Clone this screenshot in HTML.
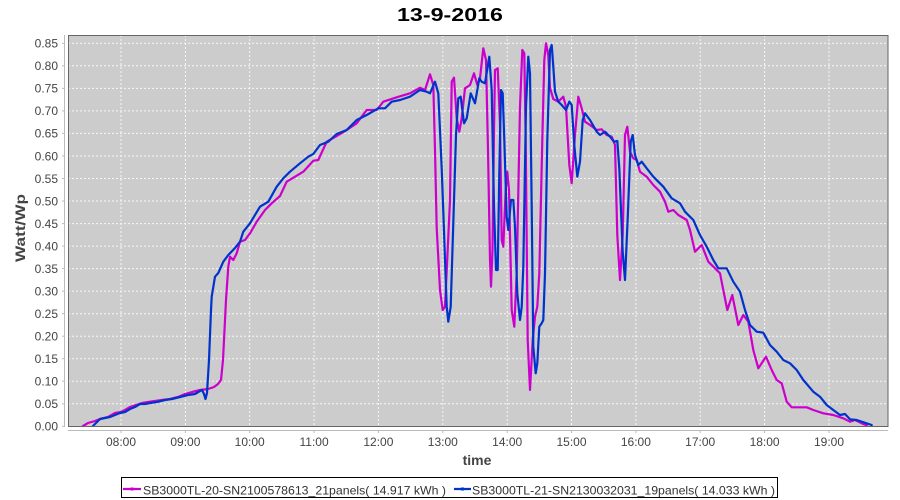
<!DOCTYPE html>
<html>
<head>
<meta charset="utf-8">
<style>
html,body{margin:0;padding:0;background:#fff;}
svg{display:block;}
text{font-family:"Liberation Sans",Arial,sans-serif;}
</style>
</head>
<body>
<svg width="900" height="500" viewBox="0 0 900 500" xmlns="http://www.w3.org/2000/svg">
<rect x="0" y="0" width="900" height="500" fill="#ffffff"/>
<!-- title -->
<text x="450" y="21" text-anchor="middle" font-family="'DejaVu Sans','Liberation Sans',sans-serif" font-weight="bold" font-size="18" fill="#000" textLength="106" lengthAdjust="spacingAndGlyphs">13-9-2016</text>

<!-- plot background -->
<rect x="68" y="35" width="820" height="391.5" fill="#cccccc"/>

<!-- grid -->
<g stroke="#ffffff" stroke-width="1" stroke-dasharray="2,2" opacity="0.85">
<line x1="68" x2="888" y1="403.8" y2="403.8"/>
<line x1="68" x2="888" y1="381.2" y2="381.2"/>
<line x1="68" x2="888" y1="358.7" y2="358.7"/>
<line x1="68" x2="888" y1="336.2" y2="336.2"/>
<line x1="68" x2="888" y1="313.7" y2="313.7"/>
<line x1="68" x2="888" y1="291.1" y2="291.1"/>
<line x1="68" x2="888" y1="268.6" y2="268.6"/>
<line x1="68" x2="888" y1="246.1" y2="246.1"/>
<line x1="68" x2="888" y1="223.6" y2="223.6"/>
<line x1="68" x2="888" y1="201.0" y2="201.0"/>
<line x1="68" x2="888" y1="178.5" y2="178.5"/>
<line x1="68" x2="888" y1="156.0" y2="156.0"/>
<line x1="68" x2="888" y1="133.4" y2="133.4"/>
<line x1="68" x2="888" y1="110.9" y2="110.9"/>
<line x1="68" x2="888" y1="88.4" y2="88.4"/>
<line x1="68" x2="888" y1="65.8" y2="65.8"/>
<line x1="68" x2="888" y1="43.3" y2="43.3"/>
<line y1="35" y2="426" x1="121" x2="121"/>
<line y1="35" y2="426" x1="185.4" x2="185.4"/>
<line y1="35" y2="426" x1="249.7" x2="249.7"/>
<line y1="35" y2="426" x1="314.1" x2="314.1"/>
<line y1="35" y2="426" x1="378.4" x2="378.4"/>
<line y1="35" y2="426" x1="442.8" x2="442.8"/>
<line y1="35" y2="426" x1="507.2" x2="507.2"/>
<line y1="35" y2="426" x1="571.5" x2="571.5"/>
<line y1="35" y2="426" x1="635.9" x2="635.9"/>
<line y1="35" y2="426" x1="700.2" x2="700.2"/>
<line y1="35" y2="426" x1="764.6" x2="764.6"/>
<line y1="35" y2="426" x1="829" x2="829"/>
</g>

<!-- series -->
<g fill="none" stroke-width="2.2" stroke-linejoin="round" stroke-linecap="round">
<polyline stroke="#cc00cc" points="83,426 88,423 95,421 100,419 108,417 115,413 121,412 125,410 130,407 136,405 142,403 148,402 155,401 162,400 170,399 178,397 185,394 192,392 200,390 208,389 214,387 218,384 221,380 223,360 225,320 226,300 228.3,266.7 230,256.7 233.3,260 236.7,253.3 240,241.7 245,240 250,233.3 256.7,221.7 265,210 271.7,203.3 280,196 286.7,181.7 295,176.7 303.3,171.7 313.3,160.7 318.3,160 326.7,141.7 336.7,136 346.7,130 356.7,123.3 366.7,110 376.7,110 383.3,101.7 396.7,97.3 410,93.3 420,87.7 425,90 430,74.3 433.3,85 435,150 436.7,228 440,290 442.7,310 445,306.7 448.3,236.7 450,200 451.7,81.7 454,77.7 456.7,118.3 459.3,131.7 461.7,118.3 465,88.3 470,85 474,73.3 477.3,85 480,78.3 483.3,48.3 486,60 488,150 490,260 491,286.7 492.5,250 494,130 495,70 497.7,68.3 500,123 501.7,240 503.3,246.7 505.7,190 507.3,171.7 509,190 511.7,310 514.3,326.7 516.7,273 520,106.7 522.3,50 524.3,53.3 525.7,140 527.7,340 530,390 532.7,340 535,316.7 537.3,306.7 539.3,273.3 542.3,140 544.3,60 546,43.3 548.3,55 550,88 553.3,99 558.3,101.7 563.3,96.7 566,106.7 569.3,165 571.7,183.3 575,135 578.3,96.7 581.7,108.3 585,121.7 590,125 596.7,130 601.7,129.3 606.7,135 611.7,136.7 615,145 617.3,235 620,280 622.7,235 625,135 627.3,126.7 630,151.7 633.3,158.3 636.7,160 640,171.7 646.7,176.7 653.3,185 660,191.7 665,201.7 668.3,211.7 673.3,210 678.3,215 686.7,220 690,230 695,251.7 701.7,245 708.3,261.7 715,268.3 720,273.3 723.3,290 727.3,310 732.3,295 738.3,325 743.3,315 748.3,321.7 753.3,350 758.3,368.3 766,356.7 771.7,370 776.7,380 781.7,383.3 786.7,401.7 791.7,407.3 806.7,407.3 813.3,410 823.3,413.3 833.3,415 843.3,418.3 850,421.7 855,420 861.7,423.3 866.7,425.3"/>
<polyline stroke="#0033cc" points="93,426 97,422 100,419 105,418 110,417 115,415 120,413 125,412 130,409 135,407 140,404 145,404 150,403 157,402 165,400 172,399 180,397 188,395 195,394 200,391 202,390 204,394 205.5,399 207,393 209,360 211,310 211.7,296.7 215,276.7 218.3,273 223.3,261.7 228.3,255 235,248 240,241.7 243.3,231.7 250,223.3 260,206.7 268.3,201.7 276.7,186.7 283.3,178.3 290,171.7 300,163.3 308.3,156.7 313.3,154 320,145 328.3,141.7 336.7,134 346.7,130 356.7,120 366.7,115 378.3,108.3 385,108.3 391.7,101.7 400,100 410,96.7 420,90 426.7,91.7 430,93.3 435,81.7 438.3,93.3 441.7,168.3 443.3,211.7 446.7,306.7 448.3,321.7 450.7,306.7 453.3,223.3 456,135 458.3,98.3 460.7,96.7 464,123.3 466.7,118.3 470.7,93.3 475,103.3 479.3,78.3 481.7,81.7 485,83.3 489.3,56.7 491.7,90 494,206.7 496,270 497.7,270 499.3,173.3 501,90 502.7,93.3 504.3,140 506.7,216.7 508.3,230 511,200 513.3,200 515,226.7 517.3,293.3 520,320 521.7,306.7 523.3,266.7 526,106.7 528.3,56.7 530,73.3 531.7,206.7 533.3,346.7 535.7,373.3 537.3,363.3 539.3,326.7 541.7,323.3 543.3,320 545,273.3 547.3,140 550,50 551.7,45 553.3,66.7 555,91.7 558.3,101.7 561.7,105 566,110 569.3,101.7 571.7,105 574.3,145 577.3,176.7 580,161.7 582.7,120 585,113.3 590,120 596.7,131.7 600,135 605,131.7 610,136.7 614,141.7 617.3,141 619.3,168.3 622.7,251.7 625,280 627.7,218.3 630.7,141.7 632.7,135 635,155 638.3,165 641.7,161.7 646.7,168.3 653.3,176.7 663.3,186.7 671.7,198.3 680,203.3 685,211.7 693.3,220 700,235 706.7,246.7 713.3,260 718.3,268.3 726.7,268.3 733.3,281.7 740,291.7 745,310 750,325 756.7,331.7 763.3,332.7 770,345 776.7,351.7 783.3,360 790,363.3 796.7,370 803.3,380 813.3,391.7 820,396.7 826.7,405 833.3,410 840,415 845,414 850,419.3 856.7,420 861.7,421.7 871.7,425"/>
</g>

<!-- plot border -->
<rect x="68.5" y="35.5" width="819.5" height="391" fill="none" stroke="#666666" stroke-width="1"/>

<!-- y axis -->
<line x1="64.5" y1="35" x2="64.5" y2="427" stroke="#bbbbbb" stroke-width="1"/>
<g stroke="#bbbbbb" stroke-width="1">
<line x1="62" x2="64.5" y1="426.3" y2="426.3"/>
<line x1="62" x2="64.5" y1="403.8" y2="403.8"/>
<line x1="62" x2="64.5" y1="381.2" y2="381.2"/>
<line x1="62" x2="64.5" y1="358.7" y2="358.7"/>
<line x1="62" x2="64.5" y1="336.2" y2="336.2"/>
<line x1="62" x2="64.5" y1="313.7" y2="313.7"/>
<line x1="62" x2="64.5" y1="291.1" y2="291.1"/>
<line x1="62" x2="64.5" y1="268.6" y2="268.6"/>
<line x1="62" x2="64.5" y1="246.1" y2="246.1"/>
<line x1="62" x2="64.5" y1="223.6" y2="223.6"/>
<line x1="62" x2="64.5" y1="201.0" y2="201.0"/>
<line x1="62" x2="64.5" y1="178.5" y2="178.5"/>
<line x1="62" x2="64.5" y1="156.0" y2="156.0"/>
<line x1="62" x2="64.5" y1="133.4" y2="133.4"/>
<line x1="62" x2="64.5" y1="110.9" y2="110.9"/>
<line x1="62" x2="64.5" y1="88.4" y2="88.4"/>
<line x1="62" x2="64.5" y1="65.8" y2="65.8"/>
<line x1="62" x2="64.5" y1="43.3" y2="43.3"/>
</g>
<g font-size="12" fill="#444444" text-anchor="end">
<text x="58" y="430.6">0.00</text>
<text x="58" y="408.1">0.05</text>
<text x="58" y="385.5">0.10</text>
<text x="58" y="363.0">0.15</text>
<text x="58" y="340.5">0.20</text>
<text x="58" y="318.0">0.25</text>
<text x="58" y="295.4">0.30</text>
<text x="58" y="272.9">0.35</text>
<text x="58" y="250.4">0.40</text>
<text x="58" y="227.9">0.45</text>
<text x="58" y="205.3">0.50</text>
<text x="58" y="182.8">0.55</text>
<text x="58" y="160.3">0.60</text>
<text x="58" y="137.7">0.65</text>
<text x="58" y="115.2">0.70</text>
<text x="58" y="92.7">0.75</text>
<text x="58" y="70.1">0.80</text>
<text x="58" y="47.6">0.85</text>
</g>

<!-- x axis -->
<line x1="68" y1="430.5" x2="888" y2="430.5" stroke="#bbbbbb" stroke-width="1"/>
<g stroke="#bbbbbb" stroke-width="1">
<line y1="430.5" y2="433" x1="121" x2="121"/>
<line y1="430.5" y2="433" x1="185.4" x2="185.4"/>
<line y1="430.5" y2="433" x1="249.7" x2="249.7"/>
<line y1="430.5" y2="433" x1="314.1" x2="314.1"/>
<line y1="430.5" y2="433" x1="378.4" x2="378.4"/>
<line y1="430.5" y2="433" x1="442.8" x2="442.8"/>
<line y1="430.5" y2="433" x1="507.2" x2="507.2"/>
<line y1="430.5" y2="433" x1="571.5" x2="571.5"/>
<line y1="430.5" y2="433" x1="635.9" x2="635.9"/>
<line y1="430.5" y2="433" x1="700.2" x2="700.2"/>
<line y1="430.5" y2="433" x1="764.6" x2="764.6"/>
<line y1="430.5" y2="433" x1="829" x2="829"/>
</g>
<g font-size="12" fill="#444444" text-anchor="middle">
<text x="121" y="446">08:00</text>
<text x="185.4" y="446">09:00</text>
<text x="249.7" y="446">10:00</text>
<text x="314.1" y="446">11:00</text>
<text x="378.4" y="446">12:00</text>
<text x="442.8" y="446">13:00</text>
<text x="507.2" y="446">14:00</text>
<text x="571.5" y="446">15:00</text>
<text x="635.9" y="446">16:00</text>
<text x="700.2" y="446">17:00</text>
<text x="764.6" y="446">18:00</text>
<text x="829" y="446">19:00</text>
</g>

<!-- axis titles -->
<text x="477" y="465" text-anchor="middle" font-size="14" font-weight="bold" fill="#444444">time</text>
<text transform="translate(25,228) rotate(-90)" text-anchor="middle" font-size="14" font-weight="bold" fill="#444444" textLength="68" lengthAdjust="spacingAndGlyphs">Watt/Wp</text>

<!-- legend -->
<rect x="121.5" y="477.5" width="656" height="20" fill="#ffffff" stroke="#000000" stroke-width="1"/>
<line x1="123" y1="489" x2="141" y2="489" stroke="#cc00cc" stroke-width="2.2"/>
<rect x="130.5" y="487.5" width="3" height="3" fill="#cc00cc"/>
<text x="143" y="494.5" font-size="12" fill="#333333" textLength="303" lengthAdjust="spacingAndGlyphs">SB3000TL-20-SN2100578613_21panels( 14.917 kWh )</text>
<line x1="454" y1="489" x2="471" y2="489" stroke="#0033cc" stroke-width="2.2"/>
<rect x="461" y="487.5" width="3" height="3" fill="#0033cc"/>
<text x="472" y="494.5" font-size="12" fill="#333333" textLength="303" lengthAdjust="spacingAndGlyphs">SB3000TL-21-SN2130032031_19panels( 14.033 kWh )</text>
</svg>
</body>
</html>
